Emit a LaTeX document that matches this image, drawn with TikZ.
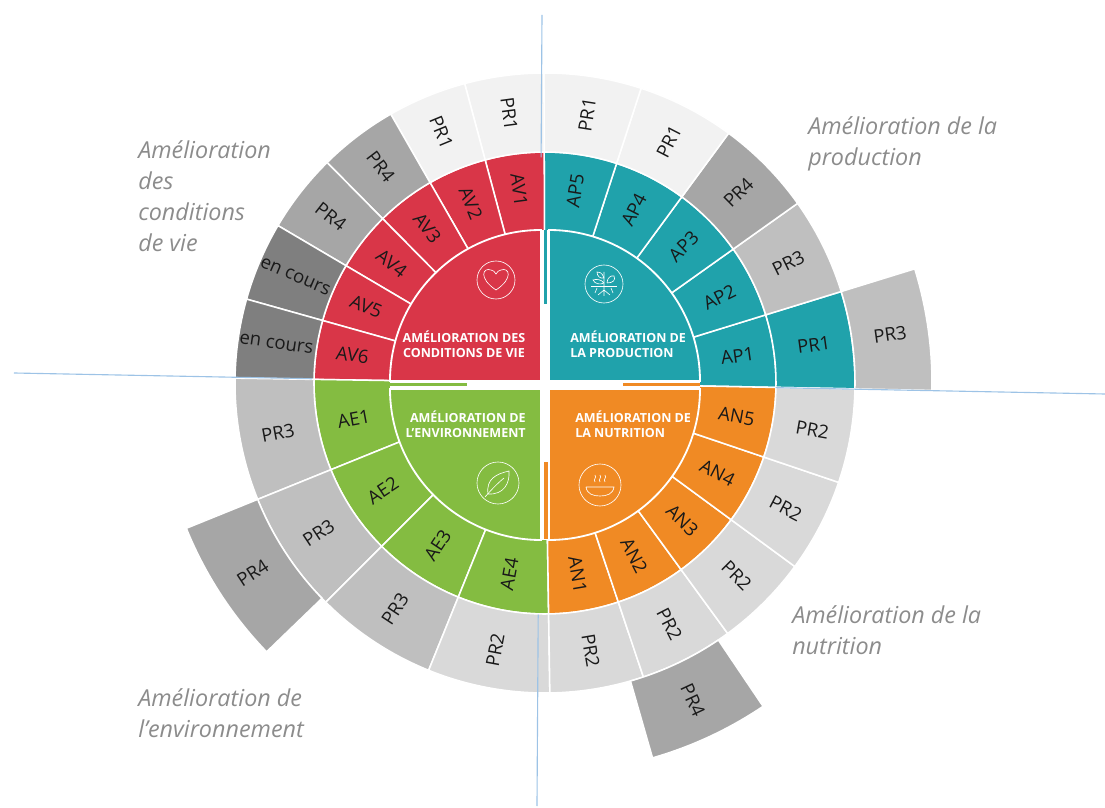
\documentclass[tikz,border=0pt]{standalone}
\usepackage{fontspec}
\setmainfont{Open Sans}
\usetikzlibrary{calc}

\definecolor{avred}{HTML}{D93648}
\definecolor{apteal}{HTML}{20A2AB}
\definecolor{aegreen}{HTML}{84BC41}
\definecolor{anorange}{HTML}{F08A24}
\definecolor{prone}{HTML}{F2F2F2}
\definecolor{prtwo}{HTML}{D9D9D9}
\definecolor{prthree}{HTML}{BFBFBF}
\definecolor{prfour}{HTML}{A6A6A6}
\definecolor{encours}{HTML}{7F7F7F}
\definecolor{axisblue}{HTML}{9DC3E6}
\definecolor{captiongray}{HTML}{8C8C8C}

\tikzset{
    sector/.style={draw=white,line width=1.1pt},
    quadrant/.style={draw=white,line width=1.3pt},
    ringlabel/.style={text=black!90,inner sep=0pt,font=\fontsize{13.2}{15}\selectfont},
    caption/.style={text=captiongray,anchor=west,align=left,inner sep=0pt,
        font=\fontsize{16.6}{22}\selectfont\itshape},
    quadlabel/.style={text=white,inner sep=0pt,font=\fontsize{8.9}{10.7}\selectfont\bfseries},
    axisline/.style={draw=axisblue,line width=0.8pt},
    icon/.style={draw=white,line width=0.45pt},
}

% start, end, inner radius, outer radius, colour, text, name, label shift
\newcommand{\ringsector}[8]{
    \draw[sector,fill=#5] (#1:#3) arc (#1:#2:#3) -- (#2:#4) arc (#2:#1:#4) -- cycle;
    \pgfmathsetmacro\midang{(#1+#2)/2}
    \pgfmathsetmacro\txtrot{ifthenelse((\midang>90)&&(\midang<270),\midang-180,\midang)}
    \node[ringlabel,rotate=\txtrot] (#7) at (\midang:{(#3+#4)/2+#8}) {#6};
}

\begin{document}
\begin{tikzpicture}[x=0.025cm,y=0.025cm]
    \useasboundingbox (-545,-425) rectangle (560,383);

    % production
    \foreach \i/\m/\o/\c in {0/AP1/PR1/apteal,1/AP2/PR3/prthree,2/AP3/PR4/prfour,3/AP4/PR1/prone,4/AP5/PR1/prone}{
        \pgfmathsetmacro\aa{-1.1+18.26*\i}
        \pgfmathsetmacro\bb{\aa+18.26}
        \ringsector{\aa}{\bb}{150}{231}{apteal}{\m}{\m}{4}
        \ringsector{\aa}{\bb}{231}{310}{\c}{\o}{out\m}{1}
    }
    % conditions de vie
    \foreach \i/\m/\o/\c in {0/AV1/PR1/prone,1/AV2/PR1/prone,2/AV3/PR4/prfour,3/AV4/PR4/prfour,4/AV5/en cours/encours,5/AV6/en cours/encours}{
        \pgfmathsetmacro\aa{90.2+14.82*\i}
        \pgfmathsetmacro\bb{\aa+14.82}
        \ringsector{\aa}{\bb}{150}{231}{avred}{\m}{\m}{4}
        \ringsector{\aa}{\bb}{231}{310}{\c}{\o}{out\m}{1}
    }
    % environnement
    \foreach \i/\m/\o/\c in {0/AE1/PR3/prthree,1/AE2/PR3/prthree,2/AE3/PR3/prthree,3/AE4/PR2/prtwo}{
        \pgfmathsetmacro\aa{179.1+22.95*\i}
        \pgfmathsetmacro\bb{\aa+22.95}
        \ringsector{\aa}{\bb}{150}{231}{aegreen}{\m}{\m}{4}
        \ringsector{\aa}{\bb}{231}{310}{\c}{\o}{out\m}{1}
    }
    % nutrition
    \foreach \i/\m/\o/\c in {0/AN1/PR2/prtwo,1/AN2/PR2/prtwo,2/AN3/PR2/prtwo,3/AN4/PR2/prtwo,4/AN5/PR2/prtwo}{
        \pgfmathsetmacro\aa{270.9+17.6*\i}
        \pgfmathsetmacro\bb{\aa+17.6}
        \ringsector{\aa}{\bb}{150}{231}{anorange}{\m}{\m}{4}
        \ringsector{\aa}{\bb}{231}{310}{\c}{\o}{out\m}{1}
    }
    % sectors sticking out
    \ringsector{-1.1}{17.16}{310}{387}{prthree}{PR3}{extraAP}{0}
    \ringsector{202.05}{224}{310}{387}{prfour}{PR4}{extraAE}{0}
    \ringsector{286}{304}{310}{390}{prfour}{PR4}{extraAN}{0}

    % centre
    \fill[white] (0,-2) circle (155);
    \draw[quadrant,fill=apteal] (4,2) -- (155,2) arc (0:90:151) -- cycle;
    \draw[quadrant,fill=avred] (-4,2) -- (-4,153) arc (90:180:151) -- cycle;
    \draw[quadrant,fill=aegreen] (-4,-6) -- (-155,-6) arc (180:270:151) -- cycle;
    \draw[quadrant,fill=anorange] (4,-6) -- (4,-157) arc (270:360:151) -- cycle;
    \fill[apteal] (-1,79) rectangle (2,153);
    \fill[anorange] (-1,-79) rectangle (3,-156);
    \fill[aegreen] (-155,-0.5) rectangle (-78,-3.5);
    \fill[anorange] (78,-0.5) rectangle (155,-3.5);

    \node[quadlabel,align=center] (qav) at (-81,39) {AMÉLIORATION DES\\CONDITIONS DE VIE};
    \node[quadlabel,align=left,anchor=west] (qap) at (25,39) {AMÉLIORATION DE\\LA PRODUCTION};
    \node[quadlabel,align=right,anchor=east] (qae) at (-19,-41) {AMÉLIORATION DE\\L’ENVIRONNEMENT};
    \node[quadlabel,align=left,anchor=west] (qan) at (30,-41) {AMÉLIORATION DE\\LA NUTRITION};

    % heart
    \begin{scope}[shift={(-49,103)}]
        \draw[icon] (0,0) circle (19);
        \draw[icon] (0,-10) .. controls (-18,2) and (-13,13) .. (-5,10) .. controls (-2,9) .. (0,6)
            .. controls (2,9) .. (5,10) .. controls (13,13) and (18,2) .. (0,-10);
    \end{scope}
    % plant
    \begin{scope}[shift={(59,99)}]
        \draw[icon] (0,0) circle (19);
        \draw[icon] (-13,-2) -- (13,-2);
        \draw[icon] (0,12) -- (0,-12) (0,-6) -- (-6,-11) (0,-6) -- (6,-11) (-7,-4) -- (-9,-9) (7,-4) -- (9,-9);
        \draw[icon] (0,6) .. controls (-2,12) and (-5,12) .. (-7,12) .. controls (-7,8) and (-4,5) .. (0,6);
        \draw[icon] (0,1) .. controls (-3,5) and (-8,5) .. (-11,4) .. controls (-9,0) and (-4,-1) .. (0,1);
        \draw[icon] (3,1) .. controls (3,6) and (7,9) .. (10,8) .. controls (12,4) and (9,1) .. (3,1);
    \end{scope}
    % leaf
    \begin{scope}[shift={(-47,-100)}]
        \draw[icon] (0,0) circle (21);
        \draw[icon] (-10,-11) .. controls (-12,4) and (-2,9) .. (11,12) .. controls (12,0) and (6,-12) .. (-10,-11);
        \draw[icon] (-13,-14) .. controls (-6,-6) and (0,0) .. (6,5);
    \end{scope}
    % bowl
    \begin{scope}[shift={(55,-102)}]
        \draw[icon] (0,0) circle (21);
        \draw[icon] (-14,-2) -- (14,-2) .. controls (13,-9) and (7,-11) .. (0,-11) .. controls (-7,-11) and (-13,-9) .. (-14,-2);
        \foreach \xs in {-5,0,5}{
            \draw[icon] (\xs,3) .. controls (\xs-2,6) and (\xs+2,7) .. (\xs,10);
        }
    \end{scope}

    % axes
    \coordinate (north) at (-3,368);
    \coordinate (south) at (-8,-423);
    \coordinate (west) at (-531,10);
    \coordinate (east) at (560,-11);
    \draw[axisline] (north) -- ($(north)!0.18!(south)$);
    \draw[axisline] ($(north)!0.758!(south)$) -- (south);
    \draw[axisline] (west) -- ($(west)!0.273!(east)$);
    \draw[axisline] ($(west)!0.698!(east)$) -- (east);

    \node[caption] (capav) at (-407,187) {Amélioration\\des\\conditions\\de vie};
    \node[caption] (capap) at (263,239) {Amélioration de la\\production};
    \node[caption] (capan) at (247,-247) {Amélioration de la\\nutrition};
    \node[caption] (capae) at (-407,-330) {Amélioration de\\l’environnement};
\end{tikzpicture}
\end{document}
